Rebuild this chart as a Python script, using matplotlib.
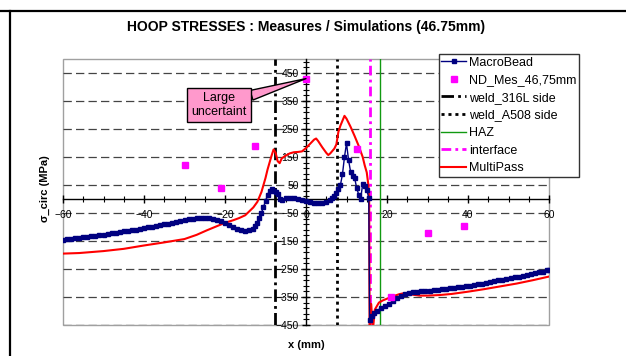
import numpy as np
import matplotlib
matplotlib.use("Agg")
import matplotlib.pyplot as plt
from matplotlib.lines import Line2D
from matplotlib.patches import Rectangle
from matplotlib.ticker import MultipleLocator, FixedLocator

plt.rcParams['font.family'] = ['Liberation Sans', 'DejaVu Sans']
plt.rcParams['lines.scale_dashes'] = False

# ---------------- données ----------------
# MacroBead (simulation)
x_bead = [-60, -59, -58, -57, -56, -55, -54, -53, -52, -51, -50, -49, -48, -47, -46,
          -45, -44, -43, -42, -41, -40, -39, -38, -37, -36, -35, -34, -33, -32, -31,
          -30, -29, -28, -27, -26, -25, -24, -23, -22, -21, -20, -19, -18, -17, -16,
          -15, -14, -13, -12.5, -12, -11.5, -11, -10.5, -10, -9.5, -9, -8.5, -8, -7.5,
          -7, -6.5, -6, -5, -4, -3, -2, -1, 0, 1, 2, 3, 4, 5, 6, 6.5, 7, 7.5, 8, 8.5,
          9, 9.5, 10, 10.5, 11, 11.5, 12, 12.5, 13, 13.5, 14, 14.5, 15, 15.5, 15.7,
          16.2, 16.8, 17.5, 18.5, 19.5, 20.5, 21.5, 22.5, 23.5, 24.5, 25.5, 26.5,
          27.5, 28.5, 29.5, 30.5, 31.5, 32.5, 33.5, 34.5, 35.5, 36.5, 37.5, 38.5,
          39.5, 40.5, 41.5, 42.5, 43.5, 44.5, 45.5, 46.5, 47.5, 48.5, 49.5, 50.5,
          51.5, 52.5, 53.5, 54.5, 55.5, 56.5, 57.5, 58.5, 59.5, 60]
y_bead = [-146, -144, -143, -141, -139, -137, -135, -133, -131, -129, -127, -125, -123, -121, -118,
          -116, -114, -111, -109, -106, -104, -101, -99, -96, -93, -91, -88, -85, -82, -79,
          -76, -73, -71, -69, -68, -68, -69, -71, -75, -80, -86, -93, -100, -107, -112,
          -115, -112, -106, -97, -85, -68, -50, -28, -8, 14, 30, 35, 30, 26,
          18, 0, -2, 2, 4, 3, 0, -4, -8, -12, -15, -16, -14, -9, -2, 5, 12, 22, 35, 50,
          88, 150, 199, 140, 98, 82, 76, 40, 16, 1, 54, 45, 33, 4, -432,
          -418, -408, -400, -390, -382, -374, -364, -354, -345, -339, -335, -333,
          -331, -330, -328, -327, -326, -324, -323, -321, -319, -318, -316, -314,
          -312, -309, -307, -304, -302, -299, -297, -294, -291, -288, -286, -283,
          -280, -277, -274, -271, -268, -265, -262, -259, -255, -252]

# Mesures ND
x_nd = [-30, -21, -12.5, 0, 12.5, 21, 30, 39]
y_nd = [123, 38, 190, 430, 180, -350, -122, -98]

# MultiPass (simulation)
x_multi = [-60, -56, -50, -45, -40, -35, -30, -27, -24.5, -22, -20, -18, -16.5, -15, -14,
           -13, -12, -11, -10.5, -10, -9.5, -9, -8.5, -8, -7.5, -7, -6.5, -6, -5, -4,
           -3, -2, -1, 0, 1, 2, 2.5, 3, 4, 5, 5.5, 6, 7, 7.5, 8, 8.5, 9.5, 10, 11, 12,
           13, 14, 14.5, 15, 15.4, 15.6, 15.7, 16.1, 16.5, 17, 18, 19, 20, 21, 22, 23,
           24, 25, 26, 28, 30, 33, 36, 40, 44, 48, 52, 56, 60]
y_multi = [-195, -193, -186, -178, -166, -155, -143, -128, -112, -97, -85, -76, -68, -58, -44,
           -30, -10, 25, 50, 75, 105, 130, 155, 177, 165, 135, 128, 145, 155, 163,
           167, 168, 170, 182, 197, 212, 216, 207, 185, 165, 157, 163, 180, 195, 240, 262, 297, 287, 258, 225,
           190, 150, 120, 95, 50, -10, -470, -375, -470, -395, -370, -362, -356, -350, -345, -340,
           -337, -337, -341, -345, -345, -343, -339, -331, -322, -312, -302, -290, -277]

# lignes verticales
x_weld_316 = -7.7
x_weld_a508 = 7.7
x_interface = 15.75
x_haz = 18.25

x_ticks = [-60, -40, -20, 0, 20, 40, 60]
y_ticks = [-450, -350, -250, -150, -50, 50, 150, 250, 350, 450]

# ---------------- figure ----------------
fig = plt.figure(figsize=(6.26, 3.56), dpi=100)
ax = fig.add_axes([63 / 626, 1 - 325 / 356, (549 - 63) / 626, (325 - 59) / 356])
ax.set_xlim(-60, 60)
ax.set_ylim(-450, 500)

# cadre de la zone de tracé
ax.add_patch(Rectangle((0, 0), 1, 1, transform=ax.transAxes, fill=False,
                       ec='#a0a0a0', lw=1, zorder=0.5, clip_on=False))

# grille horizontale
for yt in y_ticks:
    ax.axhline(yt, color='#444444', lw=0.9, dashes=(6, 3), zorder=1)

# axes croisés en 0
for s in ['top', 'right']:
    ax.spines[s].set_visible(False)
ax.spines['left'].set_position(('data', 0))
ax.spines['bottom'].set_position(('data', 0))
ax.spines['left'].set_linewidth(1)
ax.spines['bottom'].set_linewidth(1)
ax.spines['left'].set_zorder(2)
ax.spines['bottom'].set_zorder(2)

ax.xaxis.set_major_locator(FixedLocator(x_ticks))
ax.xaxis.set_minor_locator(MultipleLocator(5))
ax.yaxis.set_major_locator(FixedLocator(y_ticks))
ax.yaxis.set_minor_locator(MultipleLocator(20, offset=10))
ax.tick_params(which='major', direction='inout', length=6, width=1, labelsize=7.5)
ax.tick_params(which='minor', direction='inout', length=4, width=0.8)
ax.tick_params(axis='y', which='major', pad=2)
ax.tick_params(axis='x', which='major', pad=5)

# lignes verticales
l316 = ax.axvline(x_weld_316, color='black', lw=2, dashes=(9, 3, 2, 3), zorder=3)
la508 = ax.axvline(x_weld_a508, color='black', lw=2, dashes=(2.2, 2.8), zorder=3)
lhaz = ax.axvline(x_haz, color='#119911', lw=1, zorder=3)
lint = ax.axvline(x_interface, color='magenta', lw=2, dashes=(7, 3, 2, 3), zorder=3)

# courbes
lmulti, = ax.plot(x_multi, y_multi, color='red', lw=1.5, zorder=4)
lbead, = ax.plot(x_bead, y_bead, color='#000080', lw=1, marker='s', ms=2.8,
                 mec='#000080', zorder=5)
lnd, = ax.plot(x_nd, y_nd, ls='none', marker='s', ms=4.2, color='magenta', zorder=6)

# bulle "Large uncertaint"
ax.annotate('Large\nuncertaint', xy=(x_nd[3], y_nd[3]), xytext=(-21.5, 335),
            textcoords='data', ha='center', va='center', fontsize=9,
            bbox=dict(boxstyle='square,pad=0.35', fc='#ff99cc', ec='black', lw=1),
            arrowprops=dict(arrowstyle='wedge,tail_width=0.8', fc='#ff99cc',
                            ec='black', lw=1, shrinkA=0, shrinkB=0),
            zorder=7)

# légende
leg = fig.legend([lbead, lnd, l316, la508, lhaz, lint, lmulti],
                 ['MacroBead', 'ND_Mes_46,75mm', 'weld_316L side', 'weld_A508 side',
                  'HAZ', 'interface', 'MultiPass'],
                 loc='upper left', bbox_to_anchor=(439 / 626, 1 - 54 / 356),
                 fontsize=9, frameon=True, fancybox=False, framealpha=1,
                 edgecolor='#333333', numpoints=1, handlelength=2.0,
                 handletextpad=0.2, labelspacing=0.45, borderpad=0.2,
                 borderaxespad=0)
leg.get_frame().set_linewidth(1)

# textes
fig.text(306 / 626, 1 - 27 / 356, 'HOOP STRESSES : Measures / Simulations (46.75mm)',
         ha='center', va='center', fontsize=10, fontweight='bold')
fig.text(306 / 626, 1 - 345 / 356, 'x (mm)', ha='center', va='center',
         fontsize=8, fontweight='bold')
fig.text(45 / 626, 1 - 189 / 356, 'σ_circ (MPa)', ha='center', va='center',
         rotation=90, fontsize=8, fontweight='bold')

# cadre extérieur
fig.add_artist(Line2D([0, 1], [1 - 11 / 356, 1 - 11 / 356], color='black', lw=1.6,
                      transform=fig.transFigure))
fig.add_artist(Line2D([10 / 626, 10 / 626], [0, 1 - 11 / 356], color='black', lw=1.6,
                      transform=fig.transFigure))

fig.savefig('out.png', dpi=100)
